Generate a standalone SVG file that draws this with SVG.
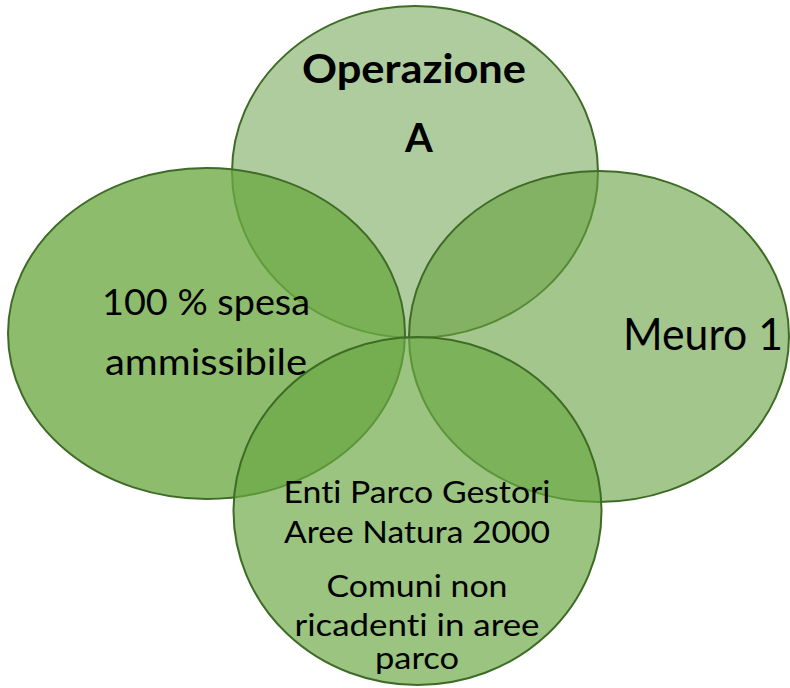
<svg xmlns="http://www.w3.org/2000/svg" width="790" height="688" viewBox="0 0 790 688">
<style>
.c{stroke:#3e6b25;stroke-width:2}
.t{font-family:Lato,"Liberation Sans",sans-serif;fill:#000;text-anchor:middle;font-variant-ligatures:none}
.b{font-weight:bold}
</style>
<rect width="790" height="688" fill="#fff"/>
<g id="top">
<ellipse class="c" cx="415" cy="172" rx="183" ry="166" fill="#afcc9e"/>
</g>
<g id="left">
<ellipse class="c" cx="206.5" cy="333.5" rx="198.5" ry="165.5" fill="#6ca943" fill-opacity="0.78"/>
</g>
<g id="right">
<ellipse class="c" cx="599" cy="336.5" rx="190" ry="165.5" fill="#66a03f" fill-opacity="0.6"/>
</g>
<g id="bottom">
<ellipse class="c" cx="417.5" cy="511" rx="184" ry="174" fill="#6aa843" fill-opacity="0.68"/>
</g>
<g id="labels">
<text class="t b" x="414" y="83" font-size="40" textLength="224" lengthAdjust="spacingAndGlyphs">Operazione</text>
<text class="t b" x="419" y="152" font-size="40">A</text>
<text class="t" x="206" y="315" font-size="36" textLength="208" lengthAdjust="spacingAndGlyphs">100 % spesa</text>
<text class="t" x="206" y="375" font-size="36" textLength="202" lengthAdjust="spacingAndGlyphs">ammissibile</text>
<text class="t" x="703" y="350" font-size="44" textLength="160" lengthAdjust="spacingAndGlyphs">Meuro 1</text>
<text class="t" x="417" y="503" font-size="30" textLength="267" lengthAdjust="spacingAndGlyphs">Enti Parco Gestori</text>
<text class="t" x="417" y="543" font-size="30" textLength="266" lengthAdjust="spacingAndGlyphs">Aree Natura 2000</text>
<text class="t" x="417" y="597" font-size="30" textLength="181" lengthAdjust="spacingAndGlyphs">Comuni non</text>
<text class="t" x="417" y="636" font-size="30" textLength="245" lengthAdjust="spacingAndGlyphs">ricadenti in aree</text>
<text class="t" x="417" y="669" font-size="30" textLength="84" lengthAdjust="spacingAndGlyphs">parco</text>
</g>
</svg>
